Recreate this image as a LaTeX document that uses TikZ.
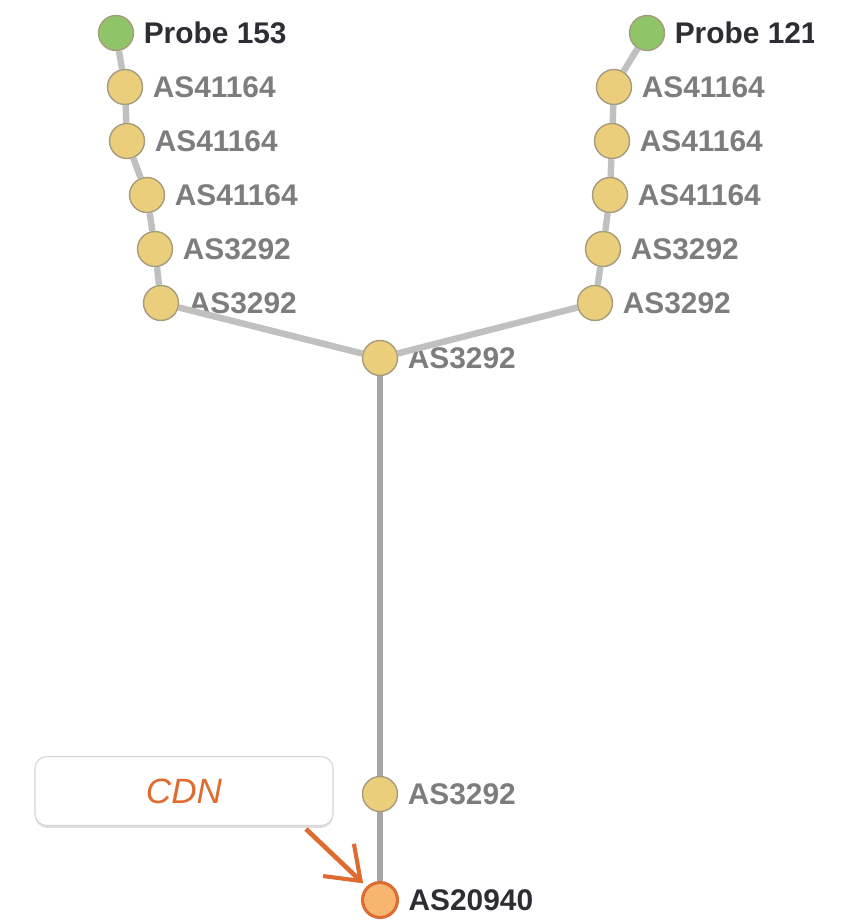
\documentclass[tikz,border=0pt]{standalone}
\usepackage{fontspec}
\setmainfont{Liberation Sans}
\usetikzlibrary{arrows.meta,shadows}

\begin{document}
\begin{tikzpicture}[x=0.03cm, y=-0.03cm,
    every node/.style={font=\fontsize{25.5}{30}\selectfont\bfseries},
    hop/.style={circle, minimum size=1.05cm, inner sep=0pt, fill=hopfill, draw=hopline, line width=1.2pt},
    probe/.style={hop, fill=probefill},
    target/.style={hop, fill=targetfill, draw=cdnorange, line width=2.6pt},
    hopname/.style={text=namegray, inner sep=1pt},
    probename/.style={text=namedark, inner sep=1pt},
    link/.style={draw=linkgray, line width=5.5pt},
    trunk/.style={draw=trunkgray, line width=5.5pt},
    cdnbox/.style={draw=boxline, fill=white, rounded corners=0.36cm, line width=1pt,
      minimum width=8.94cm, minimum height=2.07cm,
      drop shadow={opacity=0.25, shadow xshift=0pt, shadow yshift=-2pt},
      font=\fontsize{30}{36}\selectfont\itshape, text=cdnorange},
    label distance=7pt]
  \definecolor{hopfill}{RGB}{234,206,124}
  \definecolor{hopline}{RGB}{165,155,125}
  \definecolor{probefill}{RGB}{143,196,104}
  \definecolor{targetfill}{RGB}{246,182,112}
  \definecolor{cdnorange}{RGB}{222,108,48}
  \definecolor{namegray}{RGB}{125,125,128}
  \definecolor{namedark}{RGB}{45,45,52}
  \definecolor{linkgray}{RGB}{192,192,192}
  \definecolor{trunkgray}{RGB}{165,165,165}
  \definecolor{boxline}{RGB}{215,215,215}
  \useasboundingbox (0,0) rectangle (844,923);
  \clip (0,0) rectangle (813,923);

  % left path
  \node[probe, label={[probename]right:Probe 153}] (p153) at (116,33) {};
  \node[hop, label={[hopname]right:AS41164}] (l1) at (125,87) {};
  \node[hop, label={[hopname]right:AS41164}] (l2) at (127,141) {};
  \node[hop, label={[hopname]right:AS41164}] (l3) at (147,195) {};
  \node[hop, label={[hopname]right:AS3292}] (l4) at (155,249) {};
  \node[hop, label={[hopname]right:AS3292}] (l5) at (161,303) {};

  % right path
  \node[probe, label={[probename]right:Probe 121}] (p121) at (647,33) {};
  \node[hop, label={[hopname]right:AS41164}] (r1) at (614,87) {};
  \node[hop, label={[hopname]right:AS41164}] (r2) at (612,141) {};
  \node[hop, label={[hopname]right:AS41164}] (r3) at (610,195) {};
  \node[hop, label={[hopname]right:AS3292}] (r4) at (603,249) {};
  \node[hop, label={[hopname]right:AS3292}] (r5) at (595,303) {};

  % shared part
  \node[hop, label={[hopname]right:AS3292}] (join) at (380,358) {};
  \node[hop, label={[hopname]right:AS3292}] (last) at (380,794) {};
  \node[target, label={[probename]right:AS20940}] (as20940) at (380,900) {};

  \draw[link] (p153) -- (l1) -- (l2) -- (l3) -- (l4) -- (l5) -- (join);
  \draw[link] (p121) -- (r1) -- (r2) -- (r3) -- (r4) -- (r5) -- (join);
  \draw[trunk] (join) -- (last) -- (as20940);

  % annotation
  \node[cdnbox] (cdn) at (184,791) {CDN};
  \coordinate (cdntail) at (306,829);
  \draw[cdnorange, line width=4pt, shorten >=4pt,
    -{Straight Barb[length=26pt, width=38pt, line width=3.5pt]}]
    (cdntail) -- (as20940.north west);
\end{tikzpicture}
\end{document}
